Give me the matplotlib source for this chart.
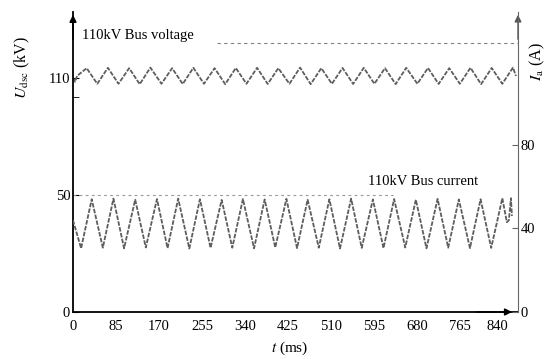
import numpy as np
import matplotlib
matplotlib.use('Agg')
import matplotlib.pyplot as plt

plt.rcParams['font.family'] = ['Liberation Serif', 'DejaVu Serif']
plt.rcParams['mathtext.fontset'] = 'stix'

# voltage waveform extrema (t in ms, U in kV)
volt_t = [0, 4, 8, 27, 48, 69, 90, 111, 132, 153, 175, 196, 217, 238, 259, 280, 301,
          322, 343, 364, 385, 406, 428, 449, 470, 491, 512, 533, 554, 575, 596,
          617, 638, 659, 681, 702, 723, 744, 765, 786, 807, 828, 849, 870, 876]
volt_u = [110, 108, 111, 115, 107, 115.2, 107, 115, 106.8, 115.3, 107, 115, 106.9, 115.2, 107,
          115, 106.8, 115.1, 107, 115.2, 106.9, 115, 107, 115.3, 106.8, 115, 107,
          115.1, 106.9, 115.2, 107, 115, 106.8, 115.2, 107, 115.1, 106.9, 115, 107,
          115.2, 106.8, 115.1, 107, 115.3, 111]

# current waveform extrema (t in ms, I in A)
curr_t = [0, 16, 37, 59, 80, 101, 123, 144, 166, 187, 208, 230, 251, 272, 294,
          315, 336, 358, 379, 400, 422, 443, 464, 486, 507, 528, 550, 571, 593,
          614, 635, 657, 678, 699, 721, 742, 763, 785, 806, 827, 849, 858, 862, 866, 868]
curr_i = [44, 30.5, 54, 30.8, 54.3, 30.5, 53.8, 30.9, 54.1, 30.6, 54.3, 30.4, 54,
          30.7, 53.7, 30.8, 54.1, 30.5, 53.9, 30.9, 54.2, 30.6, 53.8, 30.8, 54,
          30.4, 54.3, 30.7, 53.9, 30.6, 54.1, 30.9, 53.8, 30.5, 54.2, 30.8, 53.9,
          30.6, 54, 30.7, 54.5, 43, 44, 54.5, 46]

x_ticks = [0, 85, 170, 255, 340, 425, 510, 595, 680, 765, 840]
left_ticks = [0, 50, 110]
right_ticks = [0, 40, 80]

# broken left axis: 0-50 and 50-110 take the same height
v_pts = [-100, 0, 50, 110, 400]
y_pts = [-234, 0, 117, 234, 234 + 290 * 1.95]


def fwd(v):
    return np.interp(v, v_pts, y_pts)


def inv(y):
    return np.interp(y, y_pts, v_pts)


fig = plt.figure(figsize=(5.46, 3.59), dpi=100)
ax = fig.add_axes([73 / 546, 47 / 359, 445 / 546, 300 / 359])
ax2 = ax.twinx()

ax.set_yscale('function', functions=(fwd, inv))
ax.set_xlim(0, 880)
ax.set_ylim(0, 143.8)
ax2.set_ylim(0, 143.7)

wave = '#5e5e5e'
ax.plot(volt_t, volt_u, color=wave, lw=1.3, ls=(0, (2.5, 0.8)))
ax2.plot(curr_t, curr_i, color=wave, lw=1.3, ls=(0, (2.5, 0.8)))

# reference lines
ax.plot([0, 632], [50, 50], color='#999999', lw=0.8, ls=(0, (2.5, 3)))
ax.plot([285, 880], [128, 128], color='#808080', lw=0.8, ls=(0, (3, 3)))

ax.text(18, 132, '110kV Bus voltage', fontsize=10.5, va='center', ha='left')
ax2.text(583, 62.5, '110kV Bus current', fontsize=10.5, va='center', ha='left')

for a in (ax, ax2):
    a.spines['top'].set_visible(False)
ax.spines['right'].set_visible(False)
ax2.spines['left'].set_visible(False)
ax2.spines['bottom'].set_visible(False)
ax2.spines['right'].set_color('#666666')
ax.spines['left'].set_linewidth(1.3)
ax.spines['bottom'].set_linewidth(1.3)

ax.set_xticks(x_ticks)
ax.set_yticks(left_ticks)
ax.set_yticks([100], minor=True)
ax.yaxis.set_minor_formatter(plt.NullFormatter())
ax2.set_yticks(right_ticks)
ax.tick_params(axis='x', length=0, pad=6, labelsize=10.5)
ax.tick_params(axis='y', which='both', direction='in', length=4, labelsize=10.5, pad=2)
ax2.tick_params(axis='y', direction='in', length=4, labelsize=10.5, pad=2, color='#666666')

# arrow heads on the axes
arrow = dict(arrowstyle='-|>', color='black', lw=1.2, mutation_scale=10)
ax.annotate('', xy=(0, 1.0), xytext=(0, 0.9), xycoords='axes fraction', arrowprops=arrow)
ax.annotate('', xy=(0.993, 0), xytext=(0.9, 0), xycoords='axes fraction', arrowprops=arrow)
arrow2 = dict(arrowstyle='-|>', color='#555555', lw=1.0, mutation_scale=10)
ax.annotate('', xy=(1, 1.0), xytext=(1, 0.9), xycoords='axes fraction', arrowprops=arrow2)

fig.text(22 / 546, 1 - 68 / 359, r'$U_{\rm dsc}$ (kV)', rotation=90, fontsize=11.5,
         ha='center', va='center')
fig.text(537 / 546, 1 - 62 / 359, r'$I_{\rm a}$ (A)', rotation=90, fontsize=11.5,
         ha='center', va='center')
fig.text(290 / 546, 1 - 348 / 359, r'$t$ (ms)', fontsize=11, ha='center', va='center')

fig.savefig('out.png', dpi=100)
